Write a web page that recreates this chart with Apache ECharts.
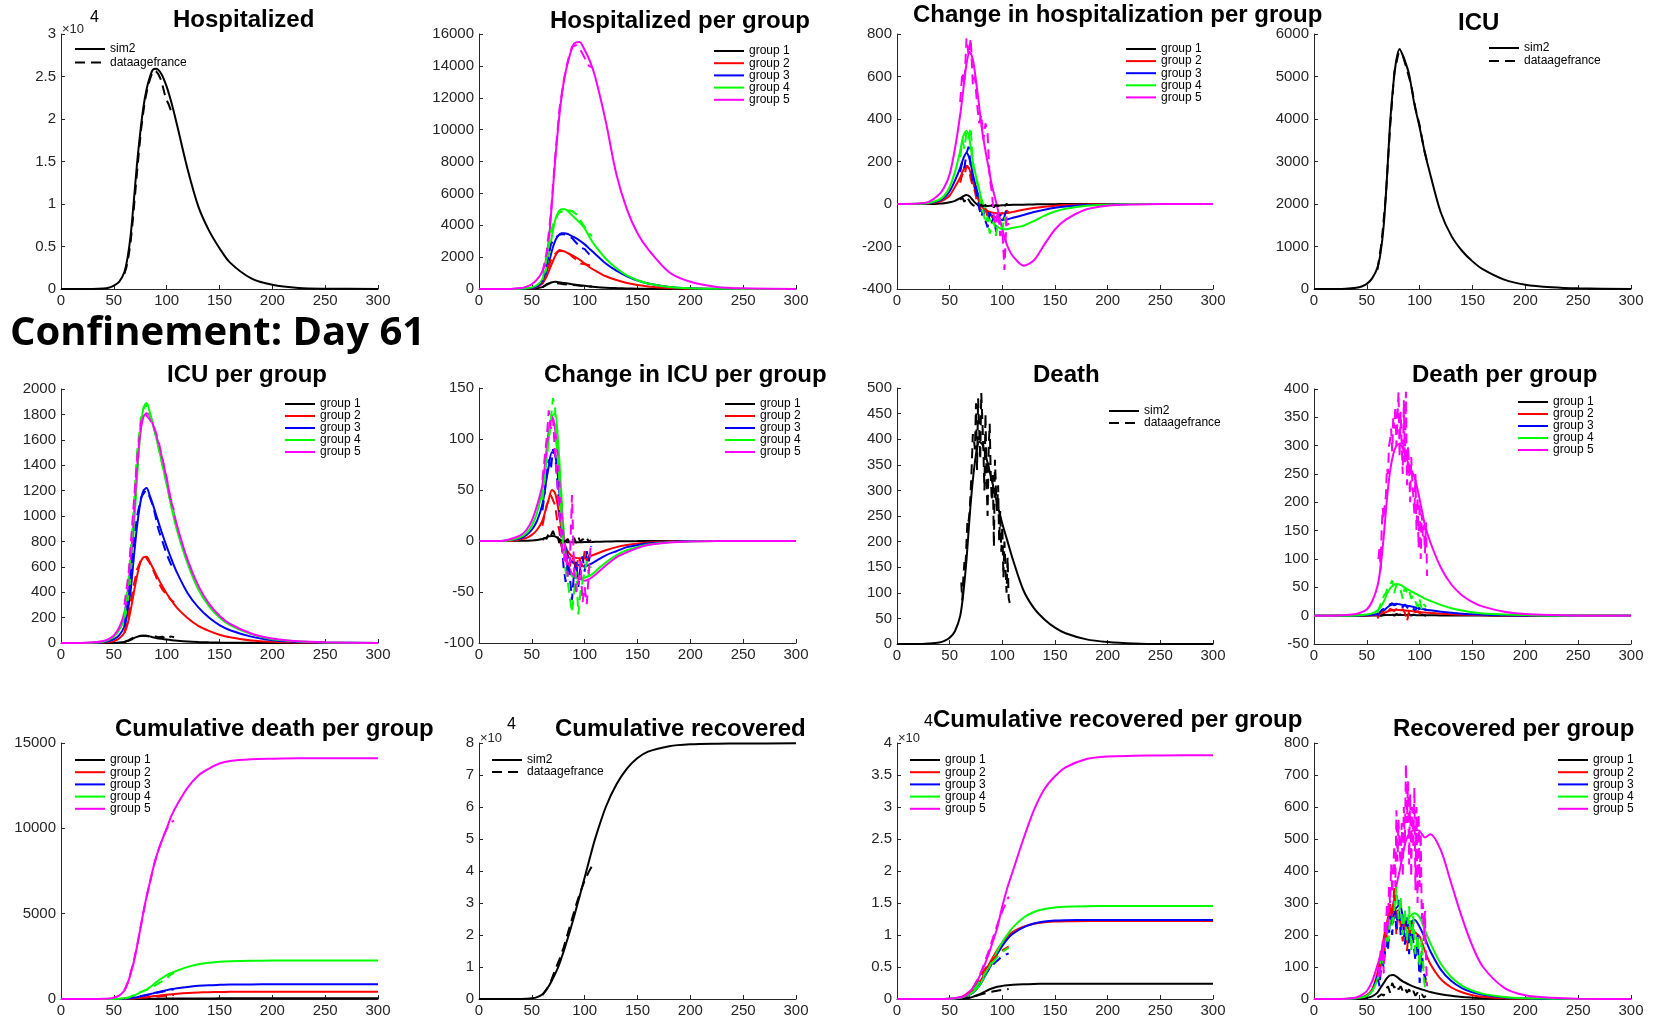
<!DOCTYPE html>
<html><head><meta charset="utf-8">
<script src="https://cdn.jsdelivr.net/npm/echarts@6/dist/echarts.min.js"></script>
<style>html,body{margin:0;padding:0;background:#fff}#c{width:1661px;height:1018px}</style>
</head><body><div id="c"></div><script>
// ---------- day grids ----------
const days = [0,20,30,40,45,50,55,60,63,66,69,72,75,78,81,84,87,90,95,100,105,110,120,130,140,150,160,180,200,225,250,300];
const dataDays2 = [60,62,64,66,68,70,72,74,76,78,80,82,84,86,88,90,92,94,96,98,100,102,104,106];
const dataDays4 = [60,64,68,72,76,80,84,88,92,96,100,104,107];
const dailyDays = [61,62,63,64,65,66,67,68,69,70,71,72,73,74,75,76,77,78,79,80,81,82,83,84,85,86,87,88,89,90,91,92,93,94,95,96,97,98,99,100,101,102,103,104,105,106,107];
const groupNames = ['group 1','group 2','group 3','group 4','group 5'];
const groupColors = ['#000000','#ff0000','#0000ff','#00ff00','#ff00ff'];
const xTicks = [0,50,100,150,200,250,300];

// ---------- 1 Hospitalized ----------
const hospSim = [0,0,5,60,150,400,850,2000,3700,6400,10500,14800,18400,21400,23500,24900,25800,25900,25300,23800,21700,19200,14000,9700,6900,4800,3100,1250,500,130,40,5];
const hospData = [1800,2600,3900,5700,8100,11000,13800,16500,19000,20900,22500,23700,24600,25300,25700,25600,25300,24800,24000,23000,22200,21700,21000,20700];

// ---------- 2 Hospitalized per group ----------
const hpgBlack = [0,0,0,2,5,20,50,120,220,330,420,450,430,400,370,340,310,280,240,200,160,130,85,55,35,20,12,5,2,0,0,0];
const hpgRed = [0,0,1,8,25,60,140,350,650,1100,1600,2050,2350,2400,2350,2250,2150,2050,1850,1600,1350,1150,800,560,380,250,160,60,20,5,2,0];
const hpgBlue = [0,0,1,10,30,70,170,450,900,1600,2400,3000,3350,3500,3500,3450,3350,3250,3050,2800,2500,2200,1600,1150,800,530,340,130,50,15,5,0];
const hpgGreen = [0,0,2,20,50,100,250,600,1100,2100,3300,4300,4800,5000,5000,4900,4700,4500,4200,3800,3200,2700,1900,1300,850,550,350,130,50,15,5,0];
const hpgMag = [0,0,5,60,150,300,600,1100,1700,3000,5400,8000,10200,12000,13300,14200,14900,15400,15500,15000,14300,13300,10500,7200,5000,3500,2500,1050,450,130,40,5];
const hpgDataBlack = [100,300,400,380,340,300,280,250,230,200,180,160,150];
const hpgDataRed = [330,1050,1800,2200,2450,2350,2300,2050,1850,1600,1550,1500,1400];
const hpgDataBlue = [420,1500,2800,3200,3400,3450,3350,3200,2900,2600,2500,2200,2000];
const hpgDataGreen = [550,1900,3600,4400,4800,4900,4950,4900,4700,4300,3900,3500,3300];
const hpgDataMag = [1000,2300,4700,8200,11200,13000,14300,15200,15300,15000,14500,14000,13900];

// ---------- 3 Change in hospitalization per group ----------
const chBlack = [0,0,0,2,4,8,15,28,37,42,35,18,2,-8,-10,-10,-9,-8,-7,-6,-5,-4,-3,-2,-1,-1,0,0,0,0,0,0];
const chRed = [0,0,2,10,20,40,80,125,160,180,160,105,55,10,-15,-28,-35,-40,-44,-45,-42,-37,-27,-19,-13,-8,-5,-2,0,0,0,0];
const chBlue = [0,1,3,15,30,60,110,170,215,240,210,140,80,30,-5,-30,-45,-55,-65,-75,-72,-65,-52,-38,-27,-18,-12,-5,-2,0,0,0];
const chGreen = [0,1,5,20,40,80,150,250,320,345,300,200,130,70,10,-30,-60,-85,-105,-120,-118,-112,-102,-80,-55,-35,-22,-8,-3,0,0,0];
const chMag = [0,2,10,45,80,140,260,420,540,660,715,680,580,460,340,250,170,90,-10,-120,-200,-245,-290,-265,-190,-120,-75,-25,-8,-2,0,0];
const chDataBlack = [20,30,10,35,20,5,-5,-10,0,-15,-5,-10,-5,0,-10,-5,-15,-5,-10,-5,-5,-10,0,-5];
const chDataRed = [100,140,130,180,170,120,80,60,10,-10,-30,-50,-20,-60,-40,-60,-70,-40,-60,-50,-40,-60,-30,-40];
const chDataBlue = [150,200,170,240,270,180,100,80,40,-20,-60,-30,-80,-110,-40,-90,-60,-130,-70,-50,-80,-60,-20,-10];
const chDataGreen = [220,300,260,340,310,360,180,150,100,60,-20,-40,-90,-60,-140,-100,-80,-150,-60,-90,-120,-60,-100,-90];
const chDataMag = [480,620,560,780,700,780,560,600,470,380,420,300,380,330,120,60,-60,-100,-30,-150,-120,-310,-60,-100];

// ---------- 4 ICU ----------
const icuSim = [0,0,5,30,60,120,250,500,850,1500,2600,3900,4800,5400,5650,5500,5300,5050,4350,3800,3200,2700,1800,1250,900,650,460,220,100,40,15,2];
const icuData = [450,1100,2200,3800,5100,5550,5500,5150,4800,4250,3850,3300,3000];

// ---------- 5 ICU per group ----------
const icuBlack = [0,0,0,0,1,1,3,8,15,25,38,48,55,58,57,52,46,40,33,27,22,18,12,8,5,3,2,1,0,0,0,0];
const icuRed = [0,0,1,3,8,15,35,80,150,260,400,530,630,675,680,640,590,540,460,390,330,275,195,135,95,65,45,20,9,3,1,0];
const icuBlue = [0,0,1,6,15,30,60,130,240,420,680,920,1100,1200,1220,1160,1090,1010,880,760,650,550,390,280,200,140,100,50,22,8,3,0];
const icuGreen = [0,0,2,10,25,50,100,190,330,560,900,1300,1650,1850,1890,1820,1720,1620,1440,1250,1050,880,620,420,290,200,140,70,30,12,4,0];
const icuMag = [0,0,3,15,30,60,120,240,400,650,1000,1380,1650,1780,1810,1790,1720,1640,1480,1290,1090,920,650,450,310,215,150,75,35,13,5,0];
const icuDataBlack = [8,22,40,52,57,58,50,55,45,50,30,52,45];
const icuDataRed = [80,220,420,580,660,680,630,560,480,420,380,340,320];
const icuDataBlue = [130,350,700,1000,1150,1200,1150,1050,900,800,700,620,590];
const icuDataGreen = [200,500,950,1500,1800,1880,1800,1700,1550,1400,1250,1100,1000];
const icuDataMag = [300,550,1000,1450,1750,1800,1760,1700,1600,1450,1300,1100,1050];

// ---------- 6 Change in ICU per group ----------
const ciBlack = [0,0,0,0.2,0.3,0.5,1,2,3,4.5,5,4.5,2.5,0.5,-0.8,-1.2,-1.3,-1.3,-1.2,-1.1,-1,-0.8,-0.5,-0.3,-0.2,-0.1,0,0,0,0,0,0];
const ciRed = [0,0,0,2,3,6,11,20,30,41,50,47,32,12,-3,-10,-14,-16,-17,-17,-15,-13,-9,-6,-4,-2.5,-1.5,-0.5,0,0,0,0];
const ciBlue = [0,0,1,3,6,11,20,36,55,73,87,85,60,25,-2,-14,-19,-22,-24,-25,-23,-20,-14,-10,-6,-4,-2.5,-1,0,0,0,0];
const ciGreen = [0,0,1,4,8,15,28,50,75,100,122,125,95,45,-2,-25,-33,-36,-37,-36,-34,-30,-21,-14,-9,-6,-3.5,-1.2,-0.4,0,0,0];
const ciMag = [0,0,2,6,11,20,35,55,80,108,122,110,75,30,-5,-22,-30,-34,-37,-39,-37,-33,-24,-16,-11,-7,-4,-1.5,-0.5,0,0,0];
const ciDataBlack = [1,3,2,8,5,10,4,6,-2,3,-1,0,2,-3,0,3,-2,4,-1,2,0,3,-1,1];
const ciDataRed = [15,25,35,40,45,40,35,20,10,-5,-10,-20,-15,-25,-15,-20,-30,-15,-20,-25,-10,-20,-15,-10];
const ciDataBlue = [30,45,65,80,70,90,85,60,30,0,-25,-40,-20,-35,-58,-30,-20,-45,-25,-15,-30,-10,-20,-5];
const ciDataGreen = [40,60,80,100,120,140,130,90,60,20,-10,-30,-40,-55,-70,-50,-30,-72,-50,-40,-30,-20,-35,-25];
const ciDataMag = [60,80,100,128,110,120,85,60,30,0,-20,-10,-35,-20,45,-30,-50,-40,-20,-60,-45,-62,-30,0];

// ---------- 7 Death ----------
const deathSim = [0,0,1,3,6,12,25,55,100,165,250,320,370,395,390,370,345,320,275,235,200,165,105,70,48,32,21,9,4,1,0,0];
const deathData = [120,85,130,160,150,200,245,240,260,300,350,410,400,380,470,340,480,420,360,490,440,380,300,450,320,250,380,430,330,280,330,190,360,300,260,310,200,260,180,230,130,200,150,100,170,90,80];

// ---------- 8 Death per group ----------
const dpgBlack = [0,0,0,0,0,0,0.1,0.3,0.5,0.8,1.1,1.3,1.5,1.5,1.4,1.3,1.2,1.1,1,0.9,0.8,0.7,0.5,0.3,0.2,0.1,0.1,0,0,0,0,0];
const dpgRed = [0,0,0,0,0.1,0.3,0.7,1.5,2.5,4.5,7,9,10,10.5,10,9.5,9,8.5,7.5,6.5,5.5,4.8,3.5,2.5,1.7,1.2,0.8,0.3,0.1,0,0,0];
const dpgBlue = [0,0,0,0,0.3,0.6,1.5,3,5,9,14,18,20,21,20,19,18,17,15,13,11,9.5,7,5,3.5,2.5,1.7,0.7,0.3,0,0,0];
const dpgGreen = [0,0,0,0.5,1,2,4,9,15,25,38,48,54,56,55,52,48,45,40,35,30,26,19,13,9,6,4,2,1,0,0,0];
const dpgMag = [0,0,1,3,6,11,25,52,85,140,205,255,285,300,303,295,280,265,245,205,160,130,85,55,36,24,16,7,3,1,0,0];
const dpgDataBlack = [0,1,0,2,1,3,1,2,0,3,1,2,0,2,1,3,0,2,1,1,0,2,1,0];
const dpgDataRed = [-5,2,5,8,10,8,12,10,8,12,10,8,12,5,-10,8,5,10,6,8,4,6,5,3];
const dpgDataBlue = [0,5,10,12,15,18,20,22,18,20,22,18,15,20,15,12,15,12,10,15,10,8,12,10];
const dpgDataGreen = [5,15,25,35,40,50,55,62,40,55,50,45,30,50,40,45,30,35,25,15,30,10,20,15];
const dpgDataMag = [100,120,80,150,190,170,200,210,260,250,300,310,330,290,350,330,370,300,350,395,280,360,300,250,380,270,395,230,300,260,200,280,240,210,180,250,150,210,120,200,100,180,140,160,110,165,70];

// ---------- 9 Cumulative death per group ----------
const cdBlack = [0,0,0,0,0,0,0,1,1,2,3,5,7,9,11,13,15,17,20,23,26,28,32,34,36,37,38,39,40,40,40,40];
const cdRed = [0,0,0,0,0,1,3,8,13,22,35,55,75,95,115,140,160,180,215,250,285,310,350,380,400,410,418,425,428,430,430,430];
const cdBlue = [0,0,0,0,0,2,5,15,25,45,70,105,145,190,235,285,330,380,450,520,580,630,710,770,810,830,845,855,860,860,860,860];
const cdGreen = [0,0,0,0,0,5,15,40,70,120,200,290,390,470,550,680,820,980,1200,1400,1540,1660,1880,2030,2120,2180,2210,2240,2250,2250,2250,2250];
const cdMag = [0,0,0,10,30,70,200,500,900,1500,2200,3100,4100,5100,6000,6800,7600,8300,9200,10000,10800,11400,12400,13100,13500,13800,13950,14050,14080,14100,14100,14100];
const cdDataBlack = [0,1,2,4,6,8,10,12,14,16,18,20,21];
const cdDataRed = [5,12,25,45,70,90,110,130,150,170,190,230,240];
const cdDataBlue = [10,30,70,120,170,220,270,330,380,430,480,540,570];
const cdDataGreen = [20,90,200,300,420,520,620,760,900,1050,1200,1450,1500];
const cdDataMag = [500,1100,2000,3100,4400,5700,6800,7850,8700,9400,9950,10350,10450];

// ---------- 10 Cumulative recovered ----------
const crSim = [0,0,0,10,50,200,600,1500,2600,4000,5800,7800,10000,12800,15800,19000,22300,25800,31800,38000,44200,50200,60000,67000,72000,75300,77300,79000,79600,79800,79850,79900];
const crData = [1200,3000,5500,9000,12300,16000,20500,25000,29500,33500,37000,39800,41600];

// ---------- 11 Cumulative recovered per group ----------
const crgBlack = [0,0,0,0,0,5,15,30,50,100,200,330,500,700,950,1200,1450,1650,1900,2050,2160,2240,2320,2360,2380,2390,2400,2400,2400,2400,2400,2400];
const crgRed = [0,0,0,3,10,30,90,220,380,600,900,1300,1800,2500,3300,4300,5300,6200,7600,8800,9800,10500,11300,11750,12000,12100,12150,12200,12200,12200,12200,12200];
const crgBlue = [0,0,0,2,8,25,70,170,290,460,700,1000,1450,2000,2800,3700,4600,5500,7000,8300,9400,10200,11200,11800,12100,12250,12300,12350,12360,12360,12360,12360];
const crgGreen = [0,0,0,2,8,25,75,180,310,490,740,1050,1500,2100,2900,3800,4800,5800,7400,8900,10100,11200,12700,13600,14050,14300,14420,14500,14540,14550,14550,14550];
const crgMag = [0,0,0,5,15,50,130,300,500,800,1200,1700,2500,3400,4500,5700,7000,8500,11000,14500,17500,20000,25000,29500,32800,34800,36200,37500,37900,38000,38050,38100];
const crgDataBlack = [30,60,100,150,220,300,380,470,560,650,740,830,910,990,1060,1130,1200,1260,1320,1370,1420,1470,1510,1560];
const crgDataRed = [200,330,500,700,950,1250,1600,2000,2500,3000,3600,4300,4800,5200,5600,6000,6400,6700,7000,7300,7600,7800,8000,8200];
const crgDataBlue = [150,250,400,580,800,1050,1350,1700,2100,2500,3000,3500,4000,4400,4800,5200,5500,5800,6100,6400,6600,6800,7000,7100];
const crgDataGreen = [150,250,380,550,750,1000,1300,1700,2100,2600,3100,3600,4100,4600,5100,5500,5900,6300,6700,7000,7300,7600,7800,8000];
const crgDataMag = [200,300,450,650,900,1300,1800,2300,2900,3600,4300,5200,6100,7000,8000,9000,10000,11000,12000,12900,13700,14500,15200,16000];

// ---------- 12 Recovered per group ----------
const rpgBlack = [0,0,0,0,1,3,8,20,35,50,65,74,75,70,62,55,50,45,38,32,27,22,15,10,6,4,2.5,1,0,0,0,0];
const rpgRed = [0,0,0,2,5,12,30,80,130,190,240,275,285,270,250,235,225,220,210,195,150,110,62,36,21,12,7,2,1,0,0,0];
const rpgBlue = [0,0,0,2,5,10,25,70,110,160,210,255,275,285,295,260,225,235,248,225,190,150,92,56,34,21,13,5,2,0,0,0];
const rpgGreen = [0,0,0,2,5,10,25,60,100,150,200,235,250,255,250,245,245,255,268,255,215,175,110,68,42,26,16,6,2,1,0,0];
const rpgMag = [0,0,1,5,12,25,55,105,140,175,210,260,300,355,400,450,495,515,528,525,505,515,465,360,255,165,100,35,12,4,1,0];
const rpgDataBlack = [5,10,15,10,30,40,20,50,35,45,30,40,25,35,20,30,15,25,10,20,10,15,5,10];
const rpgDataRed = [80,60,150,120,200,170,300,250,350,200,280,230,180,260,150,230,190,240,140,170,100,150,80,50];
const rpgDataBlue = [70,40,120,100,180,150,260,200,290,220,310,200,250,170,260,140,240,180,120,200,50,130,80,60];
const rpgDataGreen = [60,80,150,100,200,180,250,230,280,350,250,320,200,280,180,290,150,260,140,200,100,190,60,20];
const rpgDataMag = [100,60,150,120,180,80,250,200,300,230,350,300,420,330,400,480,350,590,430,560,470,420,550,380,600,480,735,550,680,420,640,380,600,470,660,340,600,300,580,350,520,250,300,180,275,120,40];

// ---------- panel definitions ----------
const FONT = '"Liberation Sans", Arial, Helvetica, sans-serif';
const grp = (arrs) => arrs.map((v,k)=>({name:groupNames[k], color:groupColors[k], vals:v}));
const grpData = (days, arrs) => arrs.map((v,k)=>({name:groupNames[k]+' data', color:groupColors[k], days, vals:v}));
const panels = [
 {title:'Hospitalized', box:[61,34,317,255], tpos:[173,8], y:[0,30000,5000,1e4],
  lg:[74,43,1.4], lgNames:['sim2','dataagefrance'],
  sims:[{name:'sim2',color:'#000',vals:hospSim}], obs:[{name:'dataagefrance',color:'#000',days:dataDays2,vals:hospData}]},
 {title:'Hospitalized per group', box:[479,34,317,255], tpos:[550,9], y:[0,16000,2000],
  lg:[713,45,0.2], lgNames:groupNames,
  sims:grp([hpgBlack,hpgRed,hpgBlue,hpgGreen,hpgMag]), obs:grpData(dataDays4,[hpgDataBlack,hpgDataRed,hpgDataBlue,hpgDataGreen,hpgDataMag])},
 {title:'Change in hospitalization per group', box:[897,34,316,255], tpos:[913,3], y:[-400,800,200],
  lg:[1125,43,0.1], lgNames:groupNames,
  sims:grp([chBlack,chRed,chBlue,chGreen,chMag]), obs:grpData(dataDays2,[chDataBlack,chDataRed,chDataBlue,chDataGreen,chDataMag])},
 {title:'ICU', box:[1314,34,317,255], tpos:[1458,11.5], y:[0,6000,1000],
  lg:[1488,42,1], lgNames:['sim2','dataagefrance'],
  sims:[{name:'sim2',color:'#000',vals:icuSim}], obs:[{name:'dataagefrance',color:'#000',days:dataDays4,vals:icuData}]},
 {title:'ICU per group', box:[61,389,317,254], tpos:[167,363], y:[0,2000,200],
  lg:[284,398,0], lgNames:groupNames,
  sims:grp([icuBlack,icuRed,icuBlue,icuGreen,icuMag]), obs:grpData(dataDays4,[icuDataBlack,icuDataRed,icuDataBlue,icuDataGreen,icuDataMag])},
 {title:'Change in ICU per group', box:[479,388,317,255], tpos:[544,363], y:[-100,150,50],
  lg:[724,398,0], lgNames:groupNames,
  sims:grp([ciBlack,ciRed,ciBlue,ciGreen,ciMag]), obs:grpData(dataDays2,[ciDataBlack,ciDataRed,ciDataBlue,ciDataGreen,ciDataMag])},
 {title:'Death', box:[897,388,316,256], tpos:[1033,363], y:[0,500,50],
  lg:[1108,405,0], lgNames:['sim2','dataagefrance'],
  sims:[{name:'sim2',color:'#000',vals:deathSim}], obs:[{name:'dataagefrance',color:'#000',days:dailyDays,vals:deathData}]},
 {title:'Death per group', box:[1314,389,317,255], tpos:[1412,363], y:[-50,400,50],
  lg:[1517,396,0], lgNames:groupNames,
  sims:grp([dpgBlack,dpgRed,dpgBlue,dpgGreen,dpgMag]),
  obs:grpData(dataDays2,[dpgDataBlack,dpgDataRed,dpgDataBlue,dpgDataGreen]).concat([{name:'group 5 data',color:'#ff00ff',days:dailyDays,vals:dpgDataMag}])},
 {title:'Cumulative death per group', box:[61,743,317,256], tpos:[115,717], y:[0,15000,5000],
  lg:[74,754,0.2], lgNames:groupNames,
  sims:grp([cdBlack,cdRed,cdBlue,cdGreen,cdMag]), obs:grpData(dataDays4,[cdDataBlack,cdDataRed,cdDataBlue,cdDataGreen,cdDataMag])},
 {title:'Cumulative recovered', box:[479,743,317,256], tpos:[555,717], y:[0,80000,10000,1e4],
  lg:[491,754,0], lgNames:['sim2','dataagefrance'],
  sims:[{name:'sim2',color:'#000',vals:crSim}], obs:[{name:'dataagefrance',color:'#000',days:dataDays4,vals:crData}]},
 {title:'Cumulative recovered per group', box:[897,743,316,256], tpos:[933,708], y:[0,40000,5000,1e4],
  lg:[909,754,0.2], lgNames:groupNames,
  sims:grp([crgBlack,crgRed,crgBlue,crgGreen,crgMag]), obs:grpData(dataDays2,[crgDataBlack,crgDataRed,crgDataBlue,crgDataGreen,crgDataMag])},
 {title:'Recovered per group', box:[1314,743,317,256], tpos:[1393,717], y:[0,800,100],
  lg:[1557,754,0.2], lgNames:groupNames,
  sims:grp([rpgBlack,rpgRed,rpgBlue,rpgGreen,rpgMag]),
  obs:grpData(dataDays2,[rpgDataBlack,rpgDataRed,rpgDataBlue,rpgDataGreen]).concat([{name:'group 5 data',color:'#ff00ff',days:dailyDays,vals:rpgDataMag}])}
];

const AX = '#262626';
const grid=[], xAxis=[], yAxis=[], series=[], title=[], legend=[];
panels.forEach((p,i)=>{
  grid.push({left:p.box[0], top:p.box[1], width:p.box[2], height:p.box[3], outerBoundsMode:'none', containLabel:false});
  xAxis.push({type:'value', gridIndex:i, min:xTicks[0], max:xTicks[xTicks.length-1], interval:xTicks[1]-xTicks[0],
    axisLine:{show:true, onZero:false, lineStyle:{color:AX, width:1}},
    axisTick:{show:true, inside:true, length:4, lineStyle:{color:AX}},
    axisLabel:{fontSize:15, color:AX, fontFamily:FONT, margin:4},
    splitLine:{show:false}});
  const [mn,mx,iv,div] = p.y;
  yAxis.push({type:'value', gridIndex:i, min:mn, max:mx, interval:iv,
    axisLine:{show:true, onZero:false, lineStyle:{color:AX, width:1}},
    axisTick:{show:true, inside:true, length:4, lineStyle:{color:AX}},
    axisLabel:{fontSize:15, color:AX, fontFamily:FONT, margin:5,
      formatter: div ? (v)=>String(+(v/div).toFixed(2)) : (v)=>String(v)},
    splitLine:{show:false}});
  title.push({text:p.title, left:p.tpos[0], top:p.tpos[1], padding:0,
    textStyle:{fontSize:24, fontWeight:'bold', fontFamily:FONT, color:'#000'}});
  p.sims.forEach(s=>series.push({type:'line', name:s.name, xAxisIndex:i, yAxisIndex:i,
    data:days.map((d,k)=>[d,s.vals[k]]), symbol:'none', smooth:0.3, silent:true,
    lineStyle:{color:s.color, width:2}, itemStyle:{color:s.color}, z:2}));
  p.obs.forEach(s=>series.push({type:'line', name:s.name, xAxisIndex:i, yAxisIndex:i,
    data:s.days.map((d,k)=>[d,s.vals[k]]), symbol:'none', smooth:false, silent:true,
    lineStyle:{color:s.color, width:2, type:[10,6]}, itemStyle:{color:s.color}, z:3}));
  legend.push({orient:'vertical', left:p.lg[0], top:p.lg[1], padding:0, itemGap:p.lg[2],
    itemWidth:30, itemHeight:12, selectedMode:false, data:p.lgNames,
    itemStyle:{color:'rgba(0,0,0,0)', borderColor:'rgba(0,0,0,0)', borderWidth:0, opacity:0},
    lineStyle:{width:2, opacity:1},
    textStyle:{fontSize:12, fontFamily:FONT, color:'#000', lineHeight:12}});
});

const graphic = [
  {type:'text', x:10, y:334, style:{text:'Confinement: Day 61', font:'bold 40px "Open Sans", Lato, sans-serif', fill:'#000', verticalAlign:'middle'}},
  {type:'text', x:62, y:29, style:{text:'×10', font:'13px "Liberation Sans", Arial', fill:AX, verticalAlign:'middle'}},
  {type:'text', x:90, y:18, style:{text:'4', font:'16px "Liberation Sans", Arial', fill:'#000', verticalAlign:'middle'}},
  {type:'text', x:480, y:738, style:{text:'×10', font:'13px "Liberation Sans", Arial', fill:AX, verticalAlign:'middle'}},
  {type:'text', x:507, y:725, style:{text:'4', font:'16px "Liberation Sans", Arial', fill:'#000', verticalAlign:'middle'}},
  {type:'text', x:898, y:738, style:{text:'×10', font:'13px "Liberation Sans", Arial', fill:AX, verticalAlign:'middle'}},
  {type:'text', x:924, y:722, style:{text:'4', font:'16px "Liberation Sans", Arial', fill:'#000', verticalAlign:'middle'}}
];

const chart = echarts.init(document.getElementById('c'), null, {renderer:'canvas'});
chart.setOption({animation:false, backgroundColor:'#fff', grid, xAxis, yAxis, series, title, legend, graphic});
</script></body></html>
